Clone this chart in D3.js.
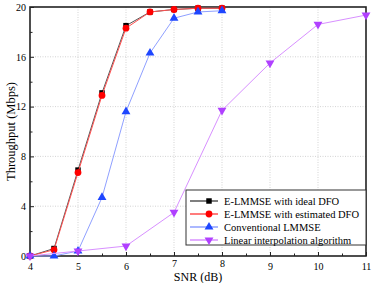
<!DOCTYPE html>
<html>
<head>
<meta charset="utf-8">
<script src="https://cdn.jsdelivr.net/npm/d3@7"></script>
<style>
  body { margin: 0; background: #fff; }
  text { font-family: "Liberation Serif", "Times New Roman", serif; }
</style>
</head>
<body>
<script>
// data
var snrA = [4, 4.5, 5, 5.5, 6, 6.5, 7, 7.5, 8];
var idealDFO = [0, 0.6, 6.9, 13.1, 18.5, 19.6, 19.8, 19.9, 19.9];
var estDFO = [0, 0.5, 6.7, 12.9, 18.3, 19.6, 19.8, 19.9, 19.9];
var convLMMSE = [0, 0.0, 0.4, 4.7, 11.6, 16.3, 19.1, 19.6, 19.7];
var snrB = [4, 5, 6, 7, 8, 9, 10, 11];
var linInterp = [0, 0.4, 0.8, 3.5, 11.7, 15.5, 18.6, 19.35];
var xTicks = [4, 5, 6, 7, 8, 9, 10, 11];
var yTicks = [0, 4, 8, 12, 16, 20];
var seriesNames = ["E-LMMSE with ideal DFO", "E-LMMSE with estimated DFO", "Conventional LMMSE", "Linear interpolation algorithm"];

var margin = {top: 7, right: 8, bottom: 27, left: 30};
var width = 374 - margin.left - margin.right;
var height = 283 - margin.top - margin.bottom;

var svg = d3.select("body")
  .append("svg")
  .attr("width", 374)
  .attr("height", 283)
  .append("g")
  .attr("transform", "translate(" + margin.left + "," + margin.top + ")");

var x = d3.scaleLinear().domain([4, 11]).range([0, width]);
var y = d3.scaleLinear().domain([0, 20]).range([height, 0]);

// grid
svg.append("g").selectAll("line")
  .data(xTicks.slice(1, -1))
  .enter().append("line")
  .attr("x1", function(d) {return x(d);})
  .attr("x2", function(d) {return x(d);})
  .attr("y1", 0).attr("y2", height)
  .attr("stroke", "#c8c8c8").attr("stroke-width", 0.8)
  .attr("stroke-dasharray", "1,1.5");
svg.append("g").selectAll("line")
  .data(yTicks.slice(1, -1))
  .enter().append("line")
  .attr("y1", function(d) {return y(d);})
  .attr("y2", function(d) {return y(d);})
  .attr("x1", 0).attr("x2", width)
  .attr("stroke", "#c8c8c8").attr("stroke-width", 0.8)
  .attr("stroke-dasharray", "1,1.5");

// axes, ticks inward
var xAxis = svg.append("g")
  .attr("transform", "translate(0," + height + ")")
  .call(d3.axisBottom(x).tickValues(d3.range(4, 11.01, 0.5)).tickSize(-4).tickFormat(function(d) {
    return d % 1 === 0 ? d : "";
  }).tickPadding(7));
xAxis.selectAll(".tick line").attr("y2", function(d) {return d % 1 === 0 ? -4 : -2.5;});
// 7 and 8 sit a little higher, clear of the title
xAxis.selectAll(".tick text").attr("y", function(d) {return (d === 7 || d === 8) ? 4 : 7;});
var yAxis = svg.append("g")
  .call(d3.axisLeft(y).tickValues(d3.range(0, 20.01, 2)).tickSize(-4).tickFormat(function(d) {
    return d % 4 === 0 ? d : "";
  }).tickPadding(4));
yAxis.selectAll(".tick line").attr("x2", function(d) {return d % 4 === 0 ? 4 : 2.5;});
[xAxis, yAxis].forEach(function(a) {
  a.select(".domain").remove();
  a.selectAll(".tick line").attr("stroke", "#222").attr("stroke-width", 1);
  a.selectAll("text").attr("font-size", 10).attr("fill", "#000")
    .style("font-family", "'Liberation Serif', serif");
});

// frame
svg.append("rect")
  .attr("width", width).attr("height", height)
  .attr("fill", "none").attr("stroke", "#222").attr("stroke-width", 1.6);

var series = [
  {xs: snrA, ys: idealDFO, line: "#555555", fill: "#000000", sym: d3.symbolSquare, size: 30, rot: 0},
  {xs: snrA, ys: estDFO, line: "#ff5050", fill: "#ff0000", sym: d3.symbolCircle, size: 36, rot: 0},
  {xs: snrA, ys: convLMMSE, line: "#8fa0ff", fill: "#1e46ff", sym: d3.symbolTriangle, size: 34, rot: 0},
  {xs: snrB, ys: linInterp, line: "#d890ff", fill: "#b040ff", sym: d3.symbolTriangle, size: 34, rot: 180}
];

var line = d3.line()
  .x(function(d) {return x(d[0]);})
  .y(function(d) {return y(d[1]);});

series.forEach(function(s) {
  var pts = s.xs.map(function(v, i) {return [v, s.ys[i]];});
  svg.append("path")
    .attr("fill", "none")
    .attr("stroke", s.line)
    .attr("stroke-width", 1)
    .attr("d", line(pts));
  svg.append("g").selectAll("path")
    .data(pts)
    .enter().append("path")
    .attr("d", d3.symbol().type(s.sym).size(s.size))
    .attr("fill", s.fill)
    .attr("transform", function(d) {
      return "translate(" + x(d[0]) + "," + y(d[1]) + ") rotate(" + s.rot + ")";
    });
});

// legend
var lg = svg.append("g").attr("transform", "translate(" + (width - 180) + "," + (height - 66) + ")");
lg.append("rect")
  .attr("width", 180).attr("height", 55)
  .attr("fill", "#fff").attr("stroke", "#333").attr("stroke-width", 1);
seriesNames.forEach(function(name, i) {
  var s = series[i];
  var yy = 11 + i * 13;
  lg.append("line")
    .attr("x1", 4).attr("x2", 32).attr("y1", yy).attr("y2", yy)
    .attr("stroke", s.line).attr("stroke-width", 1.5);
  lg.append("path")
    .attr("d", d3.symbol().type(s.sym).size(s.size))
    .attr("fill", s.fill)
    .attr("transform", "translate(23," + yy + ") rotate(" + s.rot + ")");
  lg.append("text")
    .attr("x", 38).attr("y", yy + 3.5)
    .attr("font-size", 10.5)
    .text(name);
});

// axis titles
svg.append("text")
  .attr("transform", "rotate(-90)")
  .attr("x", -height / 2)
  .attr("y", -15)
  .style("text-anchor", "middle")
  .attr("font-size", 12.5)
  .text("Throughput (Mbps)");

svg.append("text")
  .attr("x", width / 2)
  .attr("y", height + 25)
  .style("text-anchor", "middle")
  .attr("font-size", 12)
  .text("SNR (dB)");
</script>
</body>
</html>
